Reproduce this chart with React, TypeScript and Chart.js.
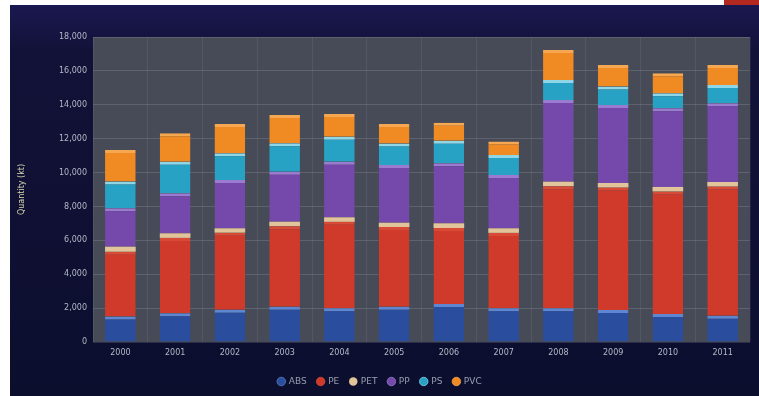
import React, { useEffect, useRef } from "react";
import { Chart, registerables } from "chart.js";

Chart.register(...registerables);

const categories = ["2000", "2001", "2002", "2003", "2004", "2005", "2006", "2007", "2008", "2009", "2010", "2011"];
const absValues = [1500, 1700, 1900, 2080, 1990, 2080, 2240, 1990, 1990, 1890, 1650, 1550];
const peValues = [3825, 4445, 4550, 4750, 5100, 4700, 4485, 4450, 7200, 7224, 7230, 7623];
const petValues = [300, 270, 260, 270, 270, 260, 280, 270, 270, 270, 270, 270];
const ppValues = [2270, 2360, 2850, 2950, 3280, 3400, 3540, 3150, 4820, 4610, 4640, 4640];
const psValues = [1570, 1870, 1580, 1680, 1480, 1280, 1330, 1180, 1180, 1080, 890, 1080];
const pvcValues = [1870, 1680, 1730, 1670, 1340, 1140, 1060, 790, 1770, 1280, 1180, 1180];
const yTicks = [0, 2000, 4000, 6000, 8000, 10000, 12000, 14000, 16000, 18000];

const plotBg = {
  id: "plotBg",
  beforeDraw(chart: any) {
    const { ctx, chartArea } = chart;
    ctx.save();
    ctx.fillStyle = "#464b57";
    ctx.fillRect(chartArea.left, chartArea.top, chartArea.right - chartArea.left, chartArea.bottom - chartArea.top);
    ctx.restore();
  },
};

export default function App() {
  const ref = useRef<HTMLCanvasElement>(null);
  useEffect(() => {
    if (!ref.current) return;
    const mk = (label: string, data: number[], color: string, hi: string) => ({
      label,
      data,
      backgroundColor: color,
      borderColor: hi,
      borderWidth: { top: 3, left: 0, right: 0, bottom: 0 },
      borderSkipped: false,
      categoryPercentage: 0.8,
      barPercentage: 0.7,
    });
    const chart = new Chart(ref.current, {
      type: "bar",
      data: {
        labels: categories,
        datasets: [
          mk("ABS", absValues, "#2a4d9e", "#5f86d0"),
          mk("PE", peValues, "#cf3a2a", "#d94a36"),
          { ...mk("PET", petValues, "#e2c49a", "#ead6b4"), borderWidth: 0 },
          mk("PP", ppValues, "#7549ab", "#9a7bd0"),
          mk("PS", psValues, "#27a2c4", "#8fd6e6"),
          mk("PVC", pvcValues, "#f08a22", "#f5a851"),
        ] as any,
      },
      options: {
        animation: false,
        responsive: false,
        maintainAspectRatio: false,
        layout: { padding: { left: 0, right: 9, top: 32, bottom: 0 } },
        plugins: {
          legend: {
            position: "bottom",
            labels: {
              usePointStyle: true,
              pointStyle: "circle",
              boxWidth: 6,
              boxHeight: 6,
              padding: 11,
              color: "#9a9eb0",
              font: { size: 9, family: "DejaVu Sans" },
            },
          },
          tooltip: { enabled: false },
        },
        scales: {
          x: {
            stacked: true,
            grid: { color: "rgba(255,255,255,0.07)", drawTicks: false },
            border: { display: false },
            ticks: { color: "#b4b8c6", font: { size: 8, family: "DejaVu Sans" }, padding: 6, maxRotation: 0 },
            afterFit(scale: any) {
              scale.height = 24;
            },
          },
          y: {
            stacked: true,
            min: 0,
            max: 18000,
            afterBuildTicks(scale: any) {
              scale.ticks = yTicks.map((v) => ({ value: v }));
            },
            grid: { color: "rgba(255,255,255,0.13)", drawTicks: false },
            border: { display: false },
            ticks: {
              color: "#b4b8c6",
              font: { size: 8, family: "DejaVu Sans" },
              padding: 6,
              callback: (v: any) => Number(v).toLocaleString("en-US"),
            },
            title: {
              display: true,
              text: "Quantity (kt)",
              color: "#d8dcb0",
              font: { size: 8, family: "DejaVu Sans" },
              padding: { top: 7, bottom: 0 },
            },
            afterFit(scale: any) {
              scale.width = 83;
            },
          },
        },
      },
      plugins: [plotBg],
    });
    return () => chart.destroy();
  }, []);

  return (
    <div style={{ position: "fixed", left: 0, top: 0, width: 759, height: 396, background: "#ffffff", overflow: "hidden" }}>
      <div style={{ position: "absolute", left: 724, top: 0, width: 35, height: 5, background: "#b3281f" }} />
      <div
        style={{
          position: "absolute",
          left: 10,
          top: 5,
          width: 749,
          height: 391,
          background: "linear-gradient(180deg, #1b1850 0%, #121238 12%, #0c0e2e 100%)",
        }}
      >
        <canvas ref={ref} width={749} height={391} style={{ display: "block", width: 749, height: 391 }} />
      </div>
    </div>
  );
}
